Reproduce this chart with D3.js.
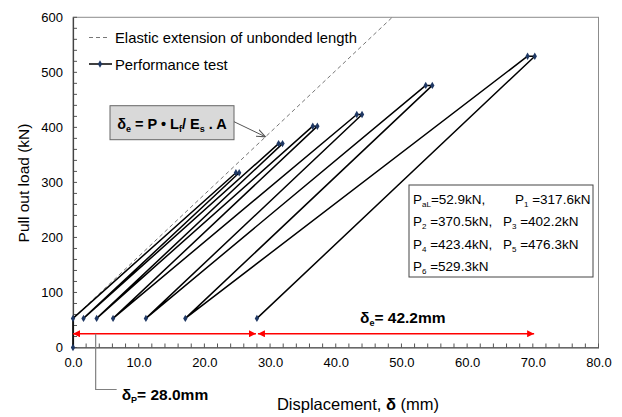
<!DOCTYPE html>
<html>
<head>
<meta charset="utf-8">
<script src="https://cdn.jsdelivr.net/npm/d3@7"></script>
<style>
  html, body { margin: 0; padding: 0; background: #fff; }
  svg { display: block; }
  text { font-family: "Liberation Sans", Arial, sans-serif; }
</style>
</head>
<body>
<div id="chart"></div>
<script>
// Axis ticks
const xTicks = [0, 10, 20, 30, 40, 50, 60, 70, 80];
const yTicks = [0, 100, 200, 300, 400, 500, 600];

// Anchor performance test: load cycles held at each test load
const baseLoad = 52.9;                                   // P_aL (kN)
const peakLoads = [317.6, 370.5, 402.2, 423.4, 476.3, 529.3];   // P1..P6 (kN)
const peakStartDisp = [24.8, 31.3, 36.5, 43.2, 53.7, 69.2];     // mm on reaching peak
const peakEndDisp = [25.3, 31.9, 37.2, 44.0, 54.7, 70.3];       // mm at end of hold
const residualDisp = [0, 1.6, 3.6, 6.1, 11.1, 17.1, 28.0];      // mm at P_aL after unloading

// Elastic extension of the unbonded length (reference line)
const elasticDisp = [0, 48.6];
const elasticLoad = [52.9, 600];

// Plastic / elastic displacement annotations
const deltaP = 28.0;
const deltaE = 42.2;
const arrowLoad = 25;

const W = 622, H = 417;
const margin = { left: 73, top: 17.3, right: 23.5, bottom: 69.5 };
const pw = W - margin.left - margin.right;
const ph = H - margin.top - margin.bottom;

const svg = d3.select("#chart").append("svg")
  .attr("width", W).attr("height", H);

const defs = svg.append("defs");
defs.append("marker")
  .attr("id", "redHead").attr("viewBox", "0 0 10 10")
  .attr("refX", 10).attr("refY", 5)
  .attr("markerWidth", 7).attr("markerHeight", 7)
  .attr("markerUnits", "userSpaceOnUse")
  .attr("orient", "auto-start-reverse")
  .append("path").attr("d", "M0,0 L10,5 L0,10 Z").attr("fill", "#ff0000");
defs.append("marker")
  .attr("id", "openHead").attr("viewBox", "0 0 10 10")
  .attr("refX", 10).attr("refY", 5)
  .attr("markerWidth", 9).attr("markerHeight", 9)
  .attr("markerUnits", "userSpaceOnUse")
  .attr("orient", "auto")
  .append("path").attr("d", "M0,1 L10,5 L0,9").attr("fill", "none")
  .attr("stroke", "#555").attr("stroke-width", 1.2);

const g = svg.append("g").attr("transform", `translate(${margin.left},${margin.top})`);

const x = d3.scaleLinear().domain([0, 80]).range([0, pw]);
const y = d3.scaleLinear().domain([0, 600]).range([ph, 0]);

// Plot frame
g.append("rect").attr("x", 0).attr("y", 0).attr("width", pw).attr("height", ph)
  .attr("fill", "none").attr("stroke", "#8c8c8c").attr("stroke-width", 1);

// Minor ticks (inside)
const xMinor = d3.range(0, 81, 2);
const yMinor = d3.range(0, 601, 20);
g.append("g").selectAll("line").data(xMinor).join("line")
  .attr("x1", d => x(d)).attr("x2", d => x(d))
  .attr("y1", ph).attr("y2", ph - 4)
  .attr("stroke", "#555").attr("stroke-width", 1);
g.append("g").selectAll("line").data(yMinor).join("line")
  .attr("x1", 0).attr("x2", 4)
  .attr("y1", d => y(d)).attr("y2", d => y(d))
  .attr("stroke", "#555").attr("stroke-width", 1);

// Axes
const xAxis = g.append("g").attr("transform", `translate(0,${ph})`)
  .call(d3.axisBottom(x).tickValues(xTicks).tickFormat(d3.format(".1f")).tickSize(0).tickPadding(10));
const yAxis = g.append("g")
  .call(d3.axisLeft(y).tickValues(yTicks).tickFormat(d3.format("d")).tickSize(0).tickPadding(10));
[xAxis, yAxis].forEach(a => {
  a.select(".domain").attr("stroke", "#444").attr("stroke-width", 1.2);
  a.selectAll("text").attr("font-size", 13).attr("fill", "#000")
    .attr("font-family", "Liberation Sans, Arial, sans-serif");
});

// Elastic extension line
const elastic = elasticDisp.map((d, i) => [d, elasticLoad[i]]);
g.append("path").datum(elastic)
  .attr("d", d3.line().x(d => x(d[0])).y(d => y(d[1])))
  .attr("fill", "none").attr("stroke", "#777").attr("stroke-width", 1)
  .attr("stroke-dasharray", "4,3");

// Performance test load path
const perf = [[0, 0], [residualDisp[0], baseLoad]];
peakLoads.forEach((p, i) => {
  perf.push([peakStartDisp[i], p]);
  perf.push([peakEndDisp[i], p]);
  perf.push([residualDisp[i + 1], baseLoad]);
});
g.append("path").datum(perf)
  .attr("d", d3.line().x(d => x(d[0])).y(d => y(d[1])))
  .attr("fill", "none").attr("stroke", "#000").attr("stroke-width", 1.5)
  .attr("stroke-linejoin", "round");
g.append("g").selectAll("path").data(perf).join("path")
  .attr("transform", d => `translate(${x(d[0])},${y(d[1])})`)
  .attr("d", d3.symbol(d3.symbolDiamond, 16))
  .attr("fill", "#1f3864");

// δP and δe arrows
g.append("line")
  .attr("x1", x(0)).attr("x2", x(deltaP) - 1)
  .attr("y1", y(arrowLoad)).attr("y2", y(arrowLoad))
  .attr("stroke", "#ff0000").attr("stroke-width", 1.6)
  .attr("marker-start", "url(#redHead)").attr("marker-end", "url(#redHead)");
g.append("line")
  .attr("x1", x(deltaP) + 1).attr("x2", x(deltaP + deltaE))
  .attr("y1", y(arrowLoad)).attr("y2", y(arrowLoad))
  .attr("stroke", "#ff0000").attr("stroke-width", 1.6)
  .attr("marker-start", "url(#redHead)").attr("marker-end", "url(#redHead)");

// δP leader
const leadX = x(3.45);
g.append("path")
  .attr("d", `M${leadX},${y(arrowLoad)} V${ph + 42} H${leadX + 21}`)
  .attr("fill", "none").attr("stroke", "#808080").attr("stroke-width", 1.2);

function deltaLabel(px, py, sub, rest) {
  const t = g.append("text").attr("x", px).attr("y", py)
    .attr("font-size", 15.5).attr("font-weight", "bold").attr("fill", "#000");
  t.append("tspan").text("δ");
  t.append("tspan").attr("font-size", 9).attr("dy", 3).text(sub);
  t.append("tspan").attr("dy", -3).text(rest);
}
deltaLabel(leadX + 26, ph + 53, "P", "= 28.0mm");
deltaLabel(x(43.7), y(arrowLoad) - 11, "e", "= 42.2mm");

// Formula box with pointer to the elastic line
const bx = 110 - margin.left, by = 105.7 - margin.top, bw = 124, bh = 34;
g.append("rect").attr("x", bx).attr("y", by).attr("width", bw).attr("height", bh)
  .attr("fill", "#d9d9d9").attr("stroke", "#666").attr("stroke-width", 1);
const ft = g.append("text").attr("x", bx + bw / 2).attr("y", by + 23)
  .attr("text-anchor", "middle").attr("font-size", 14.5).attr("font-weight", "bold");
ft.append("tspan").text("δ");
ft.append("tspan").attr("font-size", 9).attr("dy", 3).text("e");
ft.append("tspan").attr("dy", -3).text(" = P • L");
ft.append("tspan").attr("font-size", 9).attr("dy", 3).text("f");
ft.append("tspan").attr("dy", -3).text("/ E");
ft.append("tspan").attr("font-size", 9).attr("dy", 3).text("s");
ft.append("tspan").attr("dy", -3).text(" . A");
g.append("line")
  .attr("x1", bx + bw).attr("y1", by + 16)
  .attr("x2", x(29.3)).attr("y2", y(52.9 + 11.26 * 29.3))
  .attr("stroke", "#555").attr("stroke-width", 1)
  .attr("marker-end", "url(#openHead)");

// Test load values box
const lx = 409 - margin.left, ly = 185 - margin.top;
g.append("rect").attr("x", lx).attr("y", ly).attr("width", 184).attr("height", 92)
  .attr("fill", "#fff").attr("stroke", "#444").attr("stroke-width", 1);
const loadNames = [["aL", "=" + baseLoad.toFixed(1) + "kN,"]]
  .concat(peakLoads.map((p, i) => [String(i + 1), " =" + p.toFixed(1) + "kN" + (i === 1 || i === 3 ? "," : "")]));
const cellPos = [[0, 0], [1, 0], [0, 1], [1, 1], [0, 2], [1, 2], [0, 3]];
loadNames.forEach((d, i) => {
  const [c, r] = cellPos[i];
  const colX = c === 0 ? lx + 4 : (r === 0 ? lx + 106 : lx + 94);
  const t = g.append("text").attr("x", colX).attr("y", ly + 19 + r * 22.3)
    .attr("font-family", "Noto Sans CJK KR, Noto Sans, sans-serif").attr("font-size", 13.5).attr("fill", "#000");
  t.append("tspan").text("P");
  t.append("tspan").attr("font-size", 8).attr("dy", 3).text(d[0]);
  t.append("tspan").attr("dy", -3).text(d[1]);
});

// Legend
const leg = svg.append("g");
leg.append("line").attr("x1", 89).attr("x2", 110).attr("y1", 37.5).attr("y2", 37.5)
  .attr("stroke", "#777").attr("stroke-width", 1).attr("stroke-dasharray", "4,3");
leg.append("text").attr("x", 115).attr("y", 42.5).attr("font-size", 14.8).text("Elastic extension of unbonded length");
leg.append("line").attr("x1", 89).attr("x2", 112).attr("y1", 64).attr("y2", 64)
  .attr("stroke", "#000").attr("stroke-width", 1.5);
leg.append("path").attr("transform", "translate(100,64)")
  .attr("d", d3.symbol(d3.symbolDiamond, 16)).attr("fill", "#1f3864");
leg.append("text").attr("x", 115).attr("y", 69.5).attr("font-size", 14.8).text("Performance test");

// Axis titles
svg.append("text").attr("transform", "translate(29,183) rotate(-90)")
  .attr("text-anchor", "middle").attr("font-size", 15.5).text("Pull out load  (kN)");
const xt = svg.append("text").attr("x", 358).attr("y", 410)
  .attr("text-anchor", "middle").attr("font-size", 16.5);
xt.append("tspan").text("Displacement, ");
xt.append("tspan").attr("font-weight", "bold").text("δ");
xt.append("tspan").text("  (mm)");
</script>
</body>
</html>
